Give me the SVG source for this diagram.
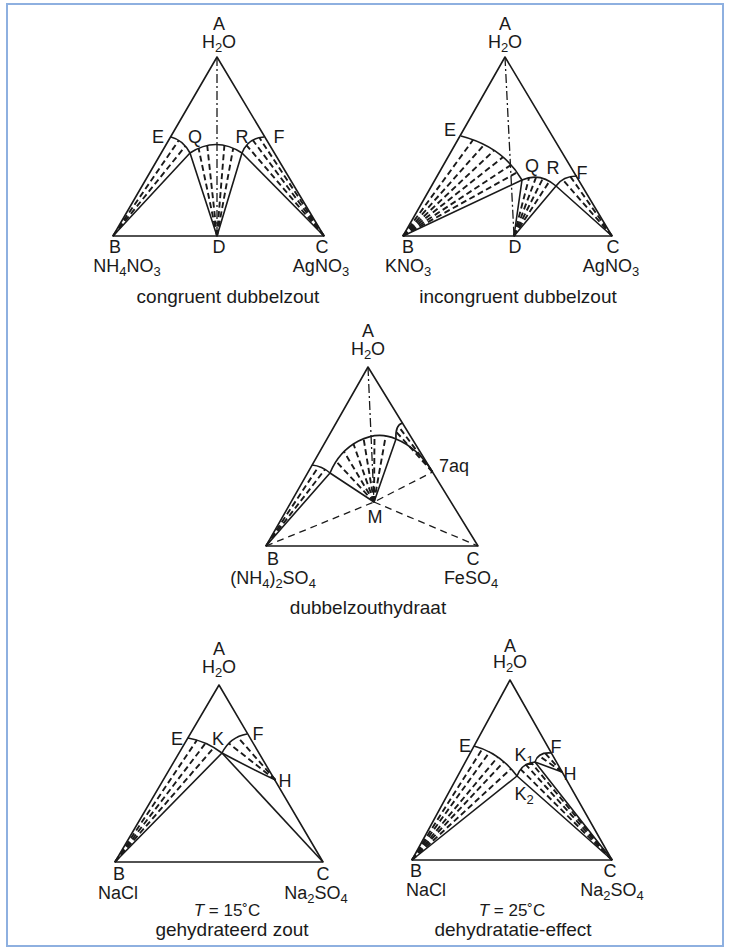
<svg xmlns="http://www.w3.org/2000/svg" width="729" height="947" viewBox="0 0 729 947">
<style>
.ln{stroke:#1a1a1a;stroke-width:1.6;fill:none;stroke-linejoin:round}
.fan{stroke:#1a1a1a;stroke-width:1.9;fill:none;stroke-dasharray:6 3.5}
.dd{stroke:#1a1a1a;stroke-width:1.3;fill:none;stroke-dasharray:9 3 2 3}
.dsh{stroke:#1a1a1a;stroke-width:1.3;fill:none;stroke-dasharray:7 5}
text{font-family:"Liberation Sans",Arial,sans-serif;font-size:18px;fill:#1a1a1a;text-anchor:middle}
.cap{font-size:19px}
.tl{font-size:17px}
.sub{font-size:13px}
</style>
<rect x="7" y="4" width="716" height="942" fill="#ffffff" stroke="#8eb0e0" stroke-width="2"/>

<!-- Diagram 1: congruent -->
<g id="congruent">
  <path class="ln" d="M217,57 L113,236 L324,236 Z"/>
  <path class="dd" d="M217,57 L217,236"/>
  <path class="ln" d="M171,137 Q183,140 190,153 L113,236"/>
  <path class="ln" d="M190,153 Q216,136 242,153"/>
  <path class="ln" d="M190,153 L217,236 L242,153"/>
  <path class="ln" d="M242,153 Q248,138 264,137"/>
  <path class="ln" d="M242,153 L324,236"/>
  <g class="fan">
    <path d="M113,236 L178.8,140.3"/><path d="M113,236 L185.4,146.1"/>
    <path d="M217,236 L198.6,148.3"/><path d="M217,236 L207.2,145.3"/><path d="M217,236 L224.4,145.3"/><path d="M217,236 L233.2,148.3"/>
    <path d="M324,236 L246.6,145.3"/><path d="M324,236 L252.7,140"/><path d="M324,236 L259.3,137.6"/>
  </g>
  <text x="219" y="30">A</text>
  <text x="219" y="48">H<tspan class="sub" dy="4">2</tspan><tspan dy="-4">O</tspan></text>
  <text x="158" y="143">E</text>
  <text x="195" y="143">Q</text>
  <text x="242" y="143">R</text>
  <text x="279" y="143">F</text>
  <text x="115" y="253">B</text>
  <text x="219" y="253">D</text>
  <text x="322" y="253">C</text>
  <text x="127" y="272">NH<tspan class="sub" dy="4">4</tspan><tspan dy="-4">NO</tspan><tspan class="sub" dy="4">3</tspan></text>
  <text x="321" y="272">AgNO<tspan class="sub" dy="4">3</tspan></text>
  <text class="cap" x="228" y="303">congruent dubbelzout</text>
</g>

<!-- Diagram 2: incongruent -->
<g id="incongruent">
  <path class="ln" d="M505,57 L403,236 L612,236 Z"/>
  <path class="dd" d="M505,57 L514,236"/>
  <path class="ln" d="M461,136 Q503,147 522,180 L403,236"/>
  <path class="ln" d="M522,180 Q540,172 556,186 L612,236"/>
  <path class="ln" d="M522,180 L514,236 L556,186"/>
  <path class="ln" d="M556,186 Q563,176 577,176"/>
  <g class="fan">
    <path d="M403,236 L473.1,139.8"/><path d="M403,236 L484.2,144.6"/><path d="M403,236 L494.1,150.4"/><path d="M403,236 L503.1,157.1"/><path d="M403,236 L511,164.9"/><path d="M403,236 L517.1,172.4"/>
    <path d="M514,236 L529.1,177.6"/><path d="M514,236 L536.1,177.2"/><path d="M514,236 L542.9,178.4"/><path d="M514,236 L549.5,181.2"/>
    <path d="M612,236 L562.7,179.7"/><path d="M612,236 L570.4,176.6"/>
  </g>
  <text x="505" y="30">A</text>
  <text x="505" y="48">H<tspan class="sub" dy="4">2</tspan><tspan dy="-4">O</tspan></text>
  <text x="450" y="136">E</text>
  <text x="532" y="172">Q</text>
  <text x="553" y="174">R</text>
  <text x="582" y="179">F</text>
  <text x="408" y="253">B</text>
  <text x="515" y="253">D</text>
  <text x="613" y="253">C</text>
  <text x="408" y="272">KNO<tspan class="sub" dy="4">3</tspan></text>
  <text x="611" y="272">AgNO<tspan class="sub" dy="4">3</tspan></text>
  <text class="cap" x="518" y="303">incongruent dubbelzout</text>
</g>

<!-- Diagram 3: double salt hydrate -->
<g id="hydrate">
  <path class="ln" d="M368,367 L266,546 L478,546 Z"/>
  <path class="dd" d="M368,367 L374,502"/>
  <path class="dsh" d="M266,546 L374,502 L432.5,472"/>
  <path class="dsh" d="M374,502 L478,546"/>
  <path class="ln" d="M312,465 Q322,466 330,473 L266,546"/>
  <path class="ln" d="M330,473 C342,444 372,428 396,439 Q418,448 432.5,472"/>
  <path class="ln" d="M330,473 L374,502 L396,439"/>
  <path class="ln" d="M396,439 Q395,425 402.5,423"/>
  <g class="fan">
    <path d="M266,546 L318.7,466.4"/><path d="M266,546 L325,469.4"/>
    <path d="M374,502 L336.3,461.6"/><path d="M374,502 L344,451.6"/><path d="M374,502 L353.4,443.8"/><path d="M374,502 L363.6,438.6"/><path d="M374,502 L374.5,435.7"/><path d="M374,502 L385.7,436.1"/>
    <path d="M432.5,472 L396.1,431.7"/><path d="M432.5,472 L398.2,425.9"/>
  </g>
  <text x="368" y="337">A</text>
  <text x="368" y="355">H<tspan class="sub" dy="4">2</tspan><tspan dy="-4">O</tspan></text>
  <text x="454" y="472">7aq</text>
  <text x="375" y="523">M</text>
  <text x="273" y="565">B</text>
  <text x="473" y="565">C</text>
  <text x="273" y="584">(NH<tspan class="sub" dy="4">4</tspan><tspan dy="-4">)</tspan><tspan class="sub" dy="4">2</tspan><tspan dy="-4">SO</tspan><tspan class="sub" dy="4">4</tspan></text>
  <text x="471" y="584">FeSO<tspan class="sub" dy="4">4</tspan></text>
  <text class="cap" x="368" y="614">dubbelzouthydraat</text>
</g>

<!-- Diagram 4: T = 15 C -->
<g id="hydrated-salt">
  <path class="ln" d="M219,685 L115,862 L323,862 Z"/>
  <path class="ln" d="M188,738 Q206,741 222,753 L115,862"/>
  <path class="ln" d="M222,753 Q230,737 247,734"/>
  <path class="ln" d="M222,753 L323,862"/>
  <path class="ln" d="M222,753 Q250,768 275.5,780"/>
  <g class="fan">
    <path d="M115,862 L196.9,740.1"/><path d="M115,862 L205.5,743.3"/><path d="M115,862 L213.9,747.6"/>
    <path d="M275.5,780 L228.7,743.3"/><path d="M275.5,780 L237.6,737"/>
  </g>
  <text x="219" y="655">A</text>
  <text x="219" y="673">H<tspan class="sub" dy="4">2</tspan><tspan dy="-4">O</tspan></text>
  <text x="177" y="745">E</text>
  <text x="218" y="745">K</text>
  <text x="258" y="740">F</text>
  <text x="285" y="787">H</text>
  <text x="119" y="880">B</text>
  <text x="323" y="880">C</text>
  <text x="118" y="899">NaCl</text>
  <text x="316" y="899">Na<tspan class="sub" dy="4">2</tspan><tspan dy="-4">SO</tspan><tspan class="sub" dy="4">4</tspan></text>
  <text class="tl" x="227" y="916"><tspan font-style="italic">T</tspan> = 15˚C</text>
  <text class="cap" x="232" y="936">gehydrateerd zout</text>
</g>

<!-- Diagram 5: T = 25 C -->
<g id="dehydration">
  <path class="ln" d="M510,680 L412,860 L612,860 Z"/>
  <path class="ln" d="M474,746 Q500,753 517,776 L612,860"/>
  <path class="ln" d="M517,776 L412,860"/>
  <path class="ln" d="M517,776 Q522,763 535,762 L612,860"/>
  <path class="ln" d="M535,762 Q538,752 551,753"/>
  <path class="ln" d="M535,762 L562,772"/>
  <g class="fan">
    <path d="M412,860 L482.5,748.7"/><path d="M412,860 L489.9,751.6"/><path d="M412,860 L497.8,757"/><path d="M412,860 L504.1,761.6"/><path d="M412,860 L511.1,768.7"/>
    <path d="M612,860 L520.7,769.3"/><path d="M612,860 L525.9,764.7"/><path d="M612,860 L531.2,762.6"/>
    <path d="M562,772 L539,755.8"/><path d="M562,772 L545.2,753.2"/>
  </g>
  <text x="510" y="652">A</text>
  <text x="510" y="668">H<tspan class="sub" dy="4">2</tspan><tspan dy="-4">O</tspan></text>
  <text x="465" y="752">E</text>
  <text x="524" y="761">K<tspan class="sub" dy="4">1</tspan></text>
  <text x="556" y="753">F</text>
  <text x="570" y="780">H</text>
  <text x="524" y="800">K<tspan class="sub" dy="4">2</tspan></text>
  <text x="416" y="877">B</text>
  <text x="610" y="877">C</text>
  <text x="426" y="896">NaCl</text>
  <text x="612" y="896">Na<tspan class="sub" dy="4">2</tspan><tspan dy="-4">SO</tspan><tspan class="sub" dy="4">4</tspan></text>
  <text class="tl" x="512" y="916"><tspan font-style="italic">T</tspan> = 25˚C</text>
  <text class="cap" x="513" y="936">dehydratatie-effect</text>
</g>
</svg>
